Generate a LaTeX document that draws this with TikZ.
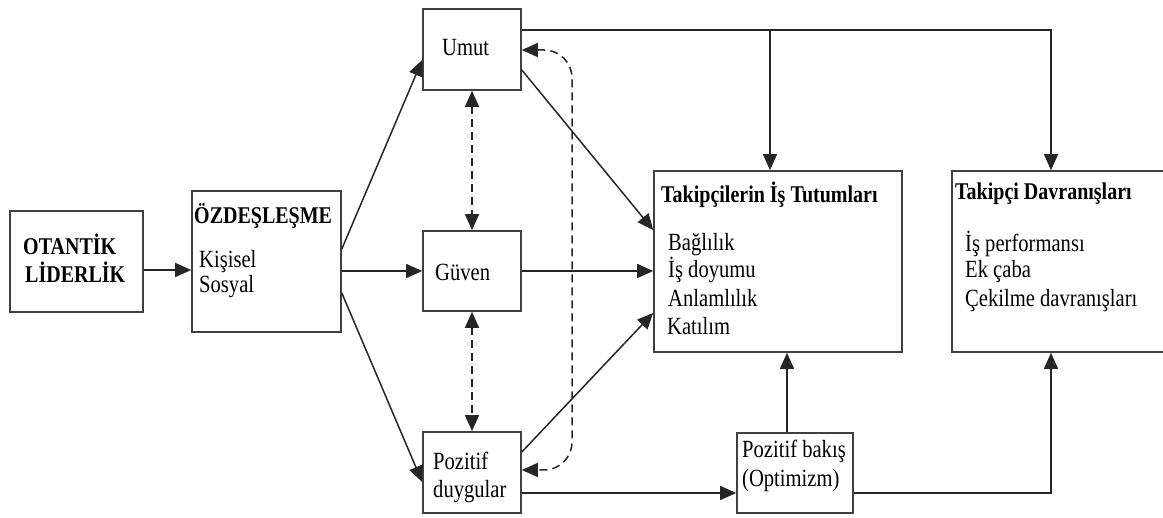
\documentclass[tikz,border=0pt]{standalone}
\usepackage{fontspec}
\setmainfont{Liberation Serif}
\usetikzlibrary{arrows.meta}

\begin{document}
\begin{tikzpicture}[x=1pt,y=-1pt,
  box/.style={draw=black!75, line width=1.6pt, inner sep=0pt},
  link/.style={draw=black!85, line width=1.5pt},
  arr/.style={link, -{Triangle[length=16pt,width=14pt]}},
  dbl/.style={link, dash pattern=on 8pt off 5pt,
    {Triangle[length=16pt,width=14pt]}-{Triangle[length=16pt,width=14pt]}},
  txt/.style={anchor=base west, inner sep=0pt, yscale=1.2,
    font=\fontsize{20.6}{24}\selectfont},
  head/.style={anchor=base west, inner sep=0pt, yscale=1.2,
    font=\fontsize{20}{24}\selectfont\bfseries}]

\useasboundingbox (0,0) rectangle (1163,518);

% boxes
\node[box, minimum width=133pt, minimum height=101pt] (ot) at (76.5,261.5) {};
\node[box, minimum width=149pt, minimum height=141pt] (oz) at (266.5,261.5) {};
\node[box, minimum width=98pt, minimum height=81pt] (umut) at (472,49.5) {};
\node[box, minimum width=98pt, minimum height=80pt] (guven) at (472,271) {};
\node[box, minimum width=98pt, minimum height=81pt] (pd) at (472,472.5) {};
\node[box, minimum width=248pt, minimum height=181pt] (tak) at (778,261.5) {};
\node[box, minimum width=214pt, minimum height=181pt] (dav) at (1059,261.5) {};
\node[box, minimum width=116pt, minimum height=80pt] (pb) at (795,473) {};

% labels
\node[head] (t1) at (23,255) {OTANTİK};
\node[head] (t2) at (25,283) {LİDERLİK};
\node[head] (t3) at (194,224) {ÖZDEŞLEŞME};
\node[txt] (t4) at (199,268) {Kişisel};
\node[txt] (t5) at (199,293) {Sosyal};
\node[txt] (t6) at (442,56) {Umut};
\node[txt] (t7) at (435,281) {Güven};
\node[txt] (t8) at (433,470) {Pozitif};
\node[txt] (t9) at (433,498) {duygular};
\node[head] (t10) at (661,203) {Takipçilerin İş Tutumları};
\node[txt] (t11) at (668,251) {Bağlılık};
\node[txt] (t12) at (668,278) {İş doyumu};
\node[txt] (t13) at (668,307) {Anlamlılık};
\node[txt] (t14) at (667,335) {Katılım};
\node[head] (t15) at (955,200) {Takipçi Davranışları};
\node[txt] (t16) at (965,252) {İş performansı};
\node[txt] (t17) at (965,278) {Ek çaba};
\node[txt] (t18) at (965,307) {Çekilme davranışları};
\node[txt] (t19) at (742,458) {Pozitif bakış};
\node[txt] (t20) at (742,487) {(Optimizm)};

% junction points
\coordinate (j1) at (770,30);
\coordinate (j2) at (1051,30);
\coordinate (j3) at (1051,493);
\coordinate (j4) at (787,493);
\coordinate (rail) at (572,260);

% connectors
\draw[arr] (ot.east |- 0,270) -- (oz.west |- 0,270);
\draw[arr] (oz.east |- 0,249) -- (umut.west |- 0,60);
\draw[arr] (oz.east |- 0,271) -- (guven.west);
\draw[arr] (oz.east |- 0,293) -- (pd.west |- 0,482);
\draw[arr] (umut.east |- 0,70) -- (tak.west |- 0,230);
\draw[arr] (guven.east) -- (tak.west |- 0,271);
\draw[arr] (pd.east |- 0,452) -- (tak.west |- 0,313);

\draw[dbl] (umut.south) -- (guven.north);
\draw[dbl] (guven.south) -- (pd.north);
\draw[dbl, rounded corners=28pt] (umut.east |- 0,50) -| (rail) |- (pd.east |- 0,470);

\draw[arr] (umut.east |- j2) -| (dav.north -| j2);
\draw[arr] (j1) -- (tak.north -| j1);

\draw[arr] (pd.east |- j3) -- (pb.west |- j3);
\draw[arr] (pb.north -| j4) -- (tak.south -| j4);
\draw[arr] (pb.east |- j3) -| (dav.south -| j3);
\end{tikzpicture}
\end{document}
